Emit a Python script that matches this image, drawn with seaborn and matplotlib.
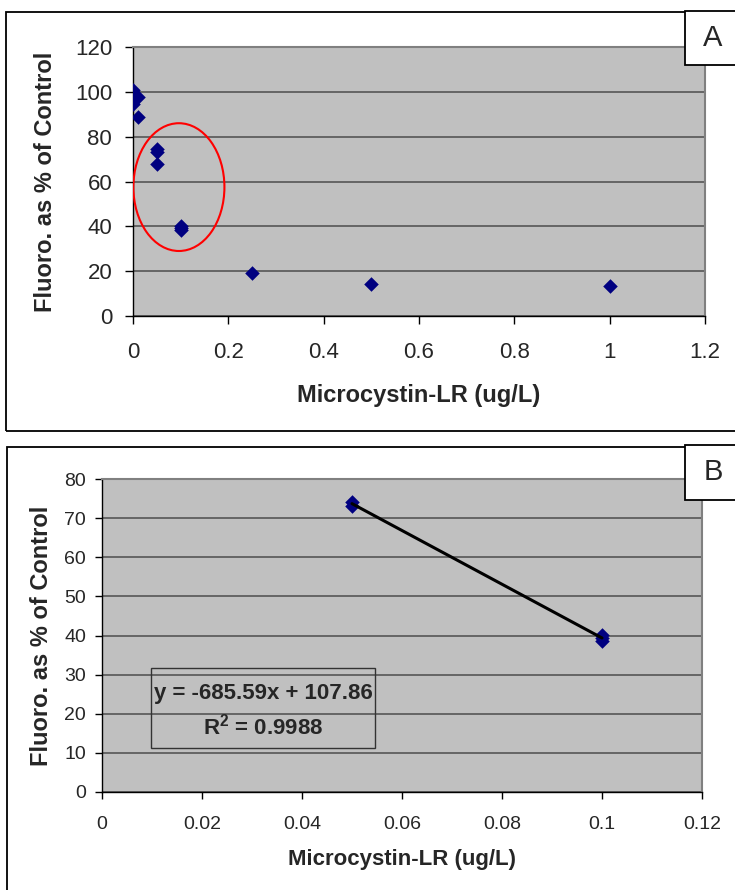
import matplotlib
matplotlib.use("Agg")
import matplotlib.pyplot as plt
from matplotlib.patches import Rectangle, Ellipse
import numpy as np
import pandas as pd
import seaborn as sns

sns.set_style("white")
plt.rcParams['font.family'] = ['Liberation Sans', 'DejaVu Sans']
plt.rcParams['mathtext.fontset'] = 'custom'
plt.rcParams['mathtext.rm'] = 'Liberation Sans'
plt.rcParams['mathtext.bf'] = 'Liberation Sans:bold'

# ---- data ----
conc_a = [0, 0, 0, 0, 0.01, 0.01, 0.05, 0.05, 0.05, 0.1, 0.1, 0.1, 0.25, 0.5, 1.0]
fluor_a = [101, 98.5, 97.5, 94.4, 97.8, 88.8, 74.4, 73.3, 67.7, 40.2, 39.2, 38.5, 19.4, 14.3, 13.3]

conc_b = [0.05, 0.05, 0.1, 0.1, 0.1]
fluor_b = [74.2, 73.2, 40.2, 39.3, 38.6]

xticks_a = [0, 0.2, 0.4, 0.6, 0.8, 1, 1.2]
xticklabels_a = ["0", "0.2", "0.4", "0.6", "0.8", "1", "1.2"]
yticks_a = [0, 20, 40, 60, 80, 100, 120]

xticks_b = [0, 0.02, 0.04, 0.06, 0.08, 0.1, 0.12]
xticklabels_b = ["0", "0.02", "0.04", "0.06", "0.08", "0.1", "0.12"]
yticks_b = [0, 10, 20, 30, 40, 50, 60, 70, 80]

eq_text = "y = -685.59x + 107.86"
r2_text = r"R$^\mathbf{2}$ = 0.9988"
xlabel = "Microcystin-LR (ug/L)"
ylabel = "Fluoro. as % of Control"

df_a = pd.DataFrame({"x": conc_a, "y": fluor_a})
df_b = pd.DataFrame({"x": conc_b, "y": fluor_b})

W, H = 735, 890
fig = plt.figure(figsize=(W / 100, H / 100), dpi=100)


def fx(px):
    return px / W


def fy(py):
    return 1 - py / H


def frect(x0, y0, x1, y1, **kw):
    r = Rectangle((fx(x0), fy(y1)), fx(x1) - fx(x0), fy(y0) - fy(y1),
                  transform=fig.transFigure, fill=False, **kw)
    fig.add_artist(r)
    return r


# outer panel frames
frect(6, 12, 760, 431, lw=1.3, edgecolor="black", zorder=0)
frect(7, 447, 760, 900, lw=1.3, edgecolor="black", zorder=0)

NAVY = "#000080"
BG = "#C0C0C0"
GRID = "#4d4d4d"


def style_axes(ax, xticks, xtl, yticks, tick_fs, tick_len, ypad, xpad):
    ax.set_facecolor(BG)
    ax.set_xticks(xticks)
    ax.set_xticklabels(xtl)
    ax.set_yticks(yticks)
    ax.yaxis.grid(True, color=GRID, lw=1.1)
    ax.xaxis.grid(False)
    ax.set_axisbelow(True)
    for s in ["top", "right"]:
        ax.spines[s].set_visible(True)
        ax.spines[s].set_color("#808080")
        ax.spines[s].set_linewidth(1.5)
    for s in ["left", "bottom"]:
        ax.spines[s].set_color("black")
        ax.spines[s].set_linewidth(1.0)
    ax.tick_params(axis="both", direction="out", length=tick_len, width=1,
                   color="black", labelsize=tick_fs, left=True, bottom=True)
    ax.tick_params(axis="y", pad=ypad)
    ax.tick_params(axis="x", pad=xpad)


# ---- Panel A ----
axA = fig.add_axes([fx(133), fy(316), fx(705) - fx(133), fy(47) - fy(316)])
sns.scatterplot(data=df_a, x="x", y="y", marker="D", s=55, color=NAVY,
                edgecolor=NAVY, linewidth=0, ax=axA, zorder=3)
axA.set_xlim(0, 1.2)
axA.set_ylim(0, 120)
style_axes(axA, xticks_a, xticklabels_a, yticks_a, 16, 6, 9, 12.5)
axA.set_xlabel(xlabel, fontsize=17, fontweight="bold", labelpad=15)
axA.set_ylabel(ylabel, fontsize=17, fontweight="bold", labelpad=13)
axA.add_patch(Ellipse((0.0963, 57.5), 0.191, 57, fill=False, edgecolor="red",
                      lw=1.5, zorder=4))

# ---- Panel B ----
axB = fig.add_axes([fx(102), fy(792), fx(702) - fx(102), fy(479) - fy(792)])
sns.regplot(data=df_b, x="x", y="y", scatter=False, ci=None, truncate=True,
            color="black", line_kws={"lw": 2.2, "zorder": 4}, ax=axB)
sns.scatterplot(data=df_b, x="x", y="y", marker="D", s=55, color=NAVY,
                edgecolor=NAVY, linewidth=0, ax=axB, zorder=3)
axB.set_xlim(0, 0.12)
axB.set_ylim(0, 80)
style_axes(axB, xticks_b, xticklabels_b, yticks_b, 14, 5, 6.5, 12.5)
axB.set_xlabel(xlabel, fontsize=16, fontweight="bold", labelpad=11)
axB.set_ylabel(ylabel, fontsize=17, fontweight="bold", labelpad=8)

# equation box
frect(151, 668, 375, 748, lw=1.0, edgecolor="#333333", zorder=5)
fig.text(fx(263), fy(693), eq_text, ha="center", va="center", fontsize=16,
         fontweight="bold")
fig.text(fx(263), fy(727), r2_text, ha="center", va="center", fontsize=16,
         fontweight="bold")

# panel letter boxes
for y0, y1, lab in [(11, 65, "A"), (445, 500, "B")]:
    r = Rectangle((fx(685), fy(y1)), fx(760) - fx(685), fy(y0) - fy(y1),
                  transform=fig.transFigure, facecolor="white", edgecolor="black",
                  lw=1.3, zorder=10)
    fig.add_artist(r)
    fig.text(fx(713), fy((y0 + y1) / 2), lab, ha="center", va="center",
             fontsize=21, zorder=11)

fig.savefig("out.png", dpi=100)
